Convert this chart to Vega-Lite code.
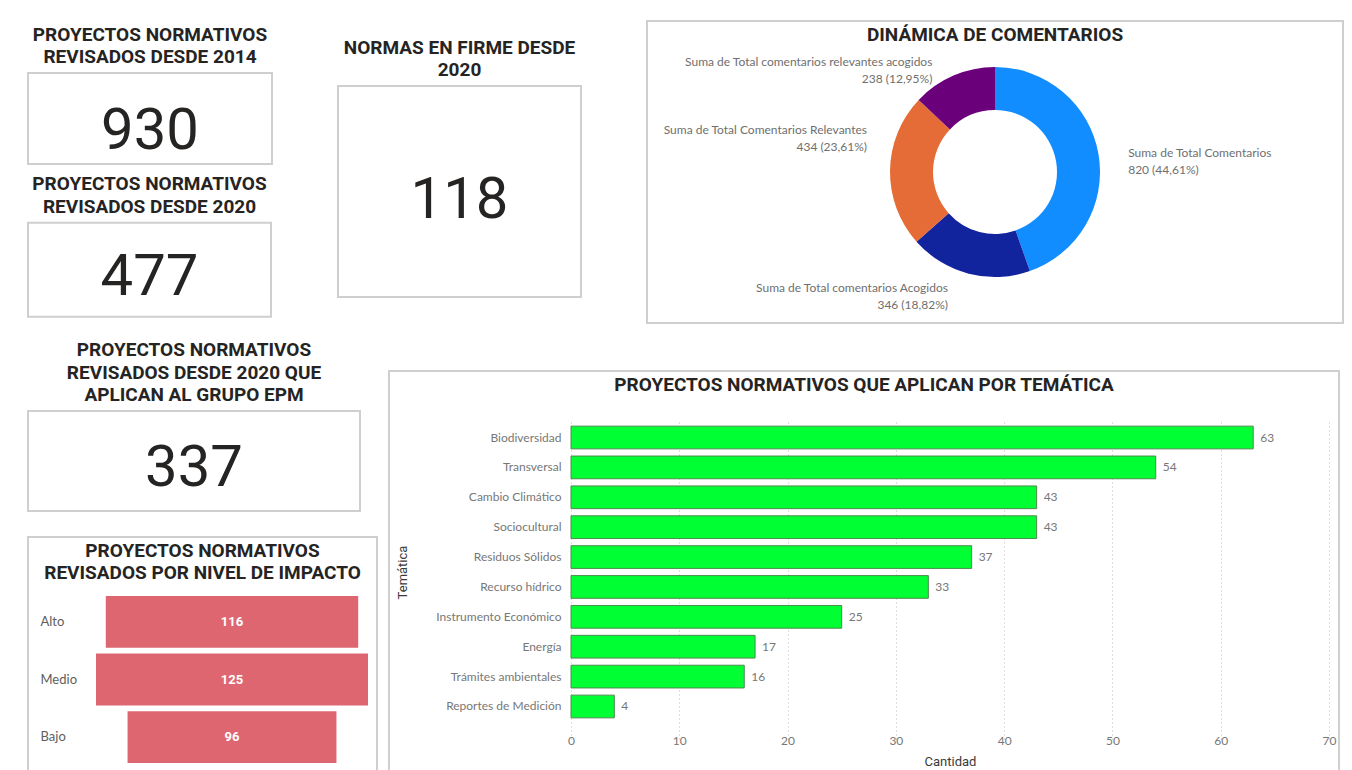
{
  "$schema": "https://vega.github.io/schema/vega-lite/v6.json",
  "background": "white",
  "padding": {"left": 27, "top": 20, "right": 10, "bottom": 10},
  "config": {
    "view": {"stroke": "#CFCFCF", "strokeWidth": 2},
    "title": {"font": "Roboto", "fontWeight": "bold", "fontSize": 19, "color": "#252423", "lineHeight": 22.5, "anchor": "middle", "baseline": "top"},
    "axis": {"labelFont": "Lato", "labelFontSize": 12, "labelColor": "#777777", "titleFont": "Roboto", "titleFontSize": 13, "titleColor": "#3A3A3A", "titleFontWeight": "normal"}
  },
  "spacing": 12,
  "vconcat": [
    {
      "spacing": 64,
      "hconcat": [
        {
          "spacing": 0,
          "vconcat": [
            {"width": 1, "height": 2.2, "data": {"values": []}, "mark": "text", "view": {"stroke": null}},
            {
              "spacing": 8.8,
              "vconcat": [
                {
                  "width": 244, "height": 91,
                  "view": {"stroke": "#CFCFCF", "strokeWidth": 2},
                  "title": {"text": ["PROYECTOS NORMATIVOS", "REVISADOS DESDE 2014"], "offset": 6},
                  "data": {"values": [{"valor": 930}]},
                  "mark": {"type": "text", "font": "Roboto", "fontSize": 58, "color": "#252423", "baseline": "middle", "dy": 13},
                  "encoding": {"text": {"field": "valor", "type": "nominal"}}
                },
                {
                  "width": 243, "height": 94,
                  "view": {"stroke": "#CFCFCF", "strokeWidth": 2},
                  "title": {"text": ["PROYECTOS NORMATIVOS", "REVISADOS DESDE 2020"], "offset": 6},
                  "data": {"values": [{"valor": 477}]},
                  "mark": {"type": "text", "font": "Roboto", "fontSize": 58, "color": "#252423", "baseline": "middle", "dy": 8.6},
                  "encoding": {"text": {"field": "valor", "type": "nominal"}}
                }
              ]
            }
          ]
        },
        {
          "spacing": 14,
          "vconcat": [
            {"width": 1, "height": 2, "data": {"values": []}, "mark": "text", "view": {"stroke": null}},
            {
              "width": 243, "height": 211,
              "view": {"stroke": "#CFCFCF", "strokeWidth": 2},
              "title": {"text": ["NORMAS EN FIRME DESDE", "2020"], "offset": 6},
              "data": {"values": [{"valor": 118}]},
              "mark": {"type": "text", "font": "Roboto", "fontSize": 58, "color": "#252423", "baseline": "middle", "dy": 9},
              "encoding": {"text": {"field": "valor", "type": "nominal"}}
            }
          ]
        },
        {
          "width": 696, "height": 302,
          "view": {"stroke": "#CFCFCF", "strokeWidth": 2},
          "title": {"text": "DINÁMICA DE COMENTARIOS", "offset": -24},
          "data": {"values": [
            {"serie": "Suma de Total Comentarios", "valor": 820, "orden": 1, "etiqueta": "Suma de Total Comentarios\n820 (44,61%)"},
            {"serie": "Suma de Total comentarios Acogidos", "valor": 346, "orden": 2, "etiqueta": "Suma de Total comentarios Acogidos\n346 (18,82%)"},
            {"serie": "Suma de Total Comentarios Relevantes", "valor": 434, "orden": 3, "etiqueta": "Suma de Total Comentarios Relevantes\n434 (23,61%)"},
            {"serie": "Suma de Total comentarios relevantes acogidos", "valor": 238, "orden": 4, "etiqueta": "Suma de Total comentarios relevantes acogidos\n238 (12,95%)"}
          ]},
          "layer": [
            {
              "mark": {"type": "arc", "innerRadius": 62, "outerRadius": 105},
              "encoding": {
                "theta": {"field": "valor", "type": "quantitative", "stack": true},
                "order": {"field": "orden", "type": "quantitative"},
                "color": {"field": "serie", "type": "nominal", "legend": null,
                  "scale": {"domain": ["Suma de Total Comentarios", "Suma de Total comentarios Acogidos", "Suma de Total Comentarios Relevantes", "Suma de Total comentarios relevantes acogidos"],
                            "range": ["#118DFF", "#12239E", "#E66C37", "#6B007B"]}}
              }
            },
            {
              "mark": {"type": "text", "radius": 128, "font": "Lato", "fontSize": 12, "color": "#6F6F6F", "lineBreak": "\n", "lineHeight": 16.7, "baseline": "middle",
                       "align": {"expr": "datum.orden == 1 ? 'left' : 'right'"},
                       "dx": {"expr": "datum.orden == 1 ? 7 : datum.orden == 2 ? -15 : datum.orden == 4 ? -12 : 0"},
                       "dy": {"expr": "datum.orden == 1 ? 3 : datum.orden == 2 ? -8 : datum.orden == 3 ? -40 : 8"}},
              "encoding": {
                "theta": {"field": "valor", "type": "quantitative", "stack": true},
                "order": {"field": "orden", "type": "quantitative"},
                "text": {"field": "etiqueta", "type": "nominal"}
              }
            }
          ]
        }
      ]
    },
    {
      "spacing": 10,
      "hconcat": [
        {
          "spacing": 0,
          "vconcat": [
            {"width": 1, "height": 3.7, "data": {"values": []}, "mark": "text", "view": {"stroke": null}},
            {
              "spacing": 24,
              "vconcat": [
                {
                  "width": 332, "height": 100,
                  "view": {"stroke": "#CFCFCF", "strokeWidth": 2},
                  "title": {"text": ["PROYECTOS NORMATIVOS", "REVISADOS DESDE 2020 QUE", "APLICAN AL GRUPO EPM"], "offset": 6},
                  "data": {"values": [{"valor": 337}]},
                  "mark": {"type": "text", "font": "Roboto", "fontSize": 58, "color": "#252423", "baseline": "middle", "dy": 8.2},
                  "encoding": {"text": {"field": "valor", "type": "nominal"}}
                },
                {
                  "width": 349, "height": 240,
                  "title": {"text": ["PROYECTOS NORMATIVOS", "REVISADOS POR NIVEL DE IMPACTO"], "offset": -46},
                  "data": {"values": [
                    {"nivel": "Alto", "valor": 116},
                    {"nivel": "Medio", "valor": 125},
                    {"nivel": "Bajo", "valor": 96}
                  ]},
                  "encoding": {
                    "y": {"field": "nivel", "type": "nominal", "sort": ["Alto", "Medio", "Bajo"],
                          "scale": {"range": [56, 229], "paddingInner": 0.1, "paddingOuter": 0.05},
                          "axis": {"title": null, "domain": false, "ticks": false, "tickSize": 0, "labelAlign": "left", "labelPadding": 0, "offset": -12,
                                   "labelFont": "Lato", "labelFontSize": 13, "labelColor": "#605E5C"}}
                  },
                  "layer": [
                    {
                      "mark": {"type": "bar", "color": "#DE6670"},
                      "encoding": {"x": {"field": "valor", "type": "quantitative", "stack": "center", "scale": {"range": [68, 340], "nice": false}, "axis": null}}
                    },
                    {
                      "mark": {"type": "text", "color": "white", "font": "Roboto", "fontWeight": "bold", "fontSize": 13, "baseline": "middle"},
                      "encoding": {
                        "x": {"field": "valor", "type": "quantitative", "stack": "center", "bandPosition": 0.5},
                        "text": {"field": "valor", "type": "nominal"}
                      }
                    }
                  ]
                }
              ]
            }
          ]
        },
        {
          "spacing": 33,
          "vconcat": [
            {"width": 1, "height": 1, "data": {"values": []}, "mark": "text", "view": {"stroke": null}},
            {
              "width": 950, "height": 410,
              "title": {"text": "PROYECTOS NORMATIVOS QUE APLICAN POR TEMÁTICA", "offset": -24},
              "data": {"values": [
                {"tematica": "Biodiversidad", "cantidad": 63},
                {"tematica": "Transversal", "cantidad": 54},
                {"tematica": "Cambio Climático", "cantidad": 43},
                {"tematica": "Sociocultural", "cantidad": 43},
                {"tematica": "Residuos Sólidos", "cantidad": 37},
                {"tematica": "Recurso hídrico", "cantidad": 33},
                {"tematica": "Instrumento Económico", "cantidad": 25},
                {"tematica": "Energía", "cantidad": 17},
                {"tematica": "Trámites ambientales", "cantidad": 16},
                {"tematica": "Reportes de Medición", "cantidad": 4}
              ]},
              "encoding": {
                "y": {"field": "tematica", "type": "nominal",
                      "sort": ["Biodiversidad", "Transversal", "Cambio Climático", "Sociocultural", "Residuos Sólidos", "Recurso hídrico", "Instrumento Económico", "Energía", "Trámites ambientales", "Reportes de Medición"],
                      "scale": {"range": [42, 360], "paddingInner": 0.24, "paddingOuter": 0.44},
                      "axis": {"title": "Temática", "offset": -182, "domain": false, "ticks": false, "tickSize": 0, "labelPadding": 10, "titleX": -162, "grid": false}}
              },
              "layer": [
                {
                  "mark": {"type": "bar", "fill": "#00FF33", "stroke": "#4E8A4E", "strokeWidth": 1},
                  "encoding": {
                    "x": {"field": "cantidad", "type": "quantitative",
                          "scale": {"domain": [0, 70], "range": [182, 940], "nice": false},
                          "axis": {"title": "Cantidad", "values": [0, 10, 20, 30, 40, 50, 60, 70], "grid": true, "gridDash": [1, 3], "gridColor": "#BDBDBD",
                                   "domain": false, "ticks": false, "tickSize": 0, "labelPadding": 4, "labelFlush": false, "offset": -50, "titlePadding": 9}}
                  }
                },
                {
                  "mark": {"type": "text", "align": "left", "dx": 7, "baseline": "middle", "font": "Lato", "fontSize": 12, "color": "#777777"},
                  "encoding": {
                    "x": {"field": "cantidad", "type": "quantitative"},
                    "text": {"field": "cantidad", "type": "nominal"}
                  }
                }
              ]
            }
          ]
        }
      ]
    }
  ]
}
